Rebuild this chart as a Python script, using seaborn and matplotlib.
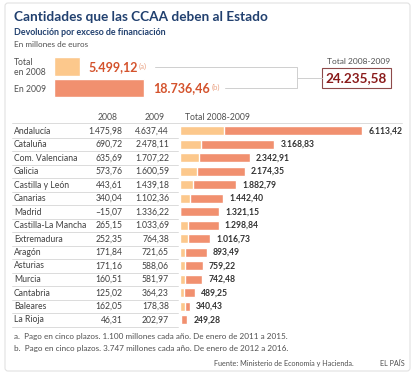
import matplotlib
matplotlib.use("Agg")
import matplotlib.pyplot as plt
import seaborn as sns
from matplotlib.patches import FancyBboxPatch, Rectangle

# ---------------- data ----------------
regions = ["Andalucía", "Cataluña", "Com. Valenciana", "Galicia", "Castilla y León",
           "Canarias", "Madrid", "Castilla-La Mancha", "Extremadura", "Aragón",
           "Asturias", "Murcia", "Cantabria", "Baleares", "La Rioja"]
v2008 = [1475.98, 690.72, 635.69, 573.76, 443.61, 340.04, -15.07, 265.15, 252.35,
         171.84, 171.16, 160.51, 125.02, 162.05, 46.31]
v2009 = [4637.44, 2478.11, 1707.22, 1600.59, 1439.18, 1102.36, 1336.22, 1033.69,
         764.38, 721.65, 588.06, 581.97, 364.23, 178.38, 202.97]
totals = [6113.42, 3168.83, 2342.91, 2174.35, 1882.79, 1442.40, 1321.15, 1298.84,
          1016.73, 893.49, 759.22, 742.48, 489.25, 340.43, 249.28]
top_labels = ["2008", "2009"]
top_values = [5499.12, 18736.46]
grand_total = 24235.58

title = "Cantidades que las CCAA deben al Estado"
subtitle = "Devolución por exceso de financiación"
units = "En millones de euros"
note_a = "a.  Pago en cinco plazos. 1.100 millones cada año. De enero de 2011 a 2015."
note_b = "b.  Pago en cinco plazos. 3.747 millones cada año. De enero de 2012 a 2016."
source = "Fuente: Ministerio de Economía y Hacienda."
brand = "EL PAÍS"

# ---------------- style ----------------
sns.set_style("white")
plt.rcParams["font.family"] = ["Lato", "DejaVu Sans"]

LIGHT = "#fcc88c"
SALMON = "#f1906f"
BLUE = "#21406f"
GRAY = "#505050"
DARK = "#333333"
ORANGE = "#d4532d"
NOTE = "#eaa486"
RED = "#8b1c1c"
LINE = "#d6d6d6"

W, H = 414, 374


def fmt(v):
    s = f"{abs(v):,.2f}".replace(",", "X").replace(".", ",").replace("X", ".")
    return ("\u2013" if v < 0 else "") + s


fig = plt.figure(figsize=(W / 100, H / 100), dpi=100)
fig.patch.set_facecolor("white")


def px_axes(x0, y0, x1, y1):
    return fig.add_axes([x0 / W, (H - y1) / H, (x1 - x0) / W, (y1 - y0) / H])


# ---------------- main bars ----------------
row_top, row_h = 124.0, 13.5
n = len(regions)
ax = px_axes(180, row_top, 410, row_top + row_h * n)
scale = 182.3 / 6113.42  # px per unit
pos08 = [max(v, 0) for v in v2008]
sns.barplot(x=totals, y=regions, color=SALMON, saturation=1, width=0.67, ax=ax)
sns.barplot(x=pos08, y=regions, color=LIGHT, saturation=1, width=0.67, ax=ax)
ax.set_xlim(0, 230 / scale)
ax.set_ylim(n - 0.5, -0.5)
ax.set_axis_off()
for i, t in enumerate(totals):
    ax.annotate(fmt(t), xy=(t, i), xytext=(4.3, 0), textcoords="offset points",
                ha="left", va="center", fontsize=6.2, fontweight="bold", color=DARK)

# ---------------- top bars ----------------
axt = px_axes(54, 56, 154, 98.7)
tscale = 89.7 / 18736.46
sns.barplot(x=top_values, y=top_labels, hue=top_labels, palette=[LIGHT, SALMON],
            saturation=1, width=0.875, legend=False, ax=axt)
axt.set_xlim(0, 100 / tscale)
axt.set_ylim(1.5, -0.5)
axt.set_axis_off()

# ---------------- overlay ----------------
ov = fig.add_axes([0, 0, 1, 1], zorder=5)
ov.set_xlim(0, W)
ov.set_ylim(H, 0)
ov.set_axis_off()
ov.patch.set_alpha(0)

ov.add_patch(FancyBboxPatch((5, 3), 405, 368, boxstyle="round,pad=0,rounding_size=3",
                            ec="#e2e2e2", fc="none", lw=0.8))

ov.text(14, 21, title, fontsize=9.8, fontweight="bold", color=BLUE, va="baseline")
ov.text(14, 35, subtitle, fontsize=6.4, fontweight="bold", color=BLUE, va="baseline")
ov.text(14, 46.7, units, fontsize=5.9, color=GRAY, va="baseline")

ov.text(14, 64.5, "Total", fontsize=6.2, color=GRAY, va="baseline")
ov.text(14, 75, "en 2008", fontsize=6.2, color=GRAY, va="baseline")
ov.text(14, 92, "En 2009", fontsize=6.2, color=GRAY, va="baseline")

t08 = ov.text(88, 70.8, fmt(top_values[0]), fontsize=9, fontweight="bold",
              color=ORANGE, va="baseline")
t09 = ov.text(153.5, 92.5, fmt(top_values[1]), fontsize=9, fontweight="bold",
              color=ORANGE, va="baseline")
ov.annotate("(a)", xy=(1, 0.35), xycoords=t08, xytext=(0.8, 0),
            textcoords="offset points", fontsize=5.6, color=NOTE, va="baseline")
ov.annotate("(b)", xy=(1, 0.35), xycoords=t09, xytext=(0.8, 0),
            textcoords="offset points", fontsize=5.6, color=NOTE, va="baseline")

ov.plot([155, 297, 297, 225], [66.7, 66.7, 88.3, 88.3], color="#cfcfcf", lw=0.7)
ov.plot([297, 322], [77.7, 77.7], color="#cfcfcf", lw=0.7)
ov.add_patch(Rectangle((322, 68.3), 69, 19.4, ec="#8e4a4a", fc="white", lw=0.8))
ov.text(356.5, 78.2, fmt(grand_total), fontsize=9.7, fontweight="bold", color=RED,
        ha="center", va="center")
ov.text(390, 64, "Total 2008-2009", fontsize=6, color=GRAY, ha="right", va="baseline")

# table header
ov.text(118, 120, "2008", fontsize=6.2, color=GRAY, ha="right", va="baseline")
ov.text(164.5, 120, "2009", fontsize=6.2, color=GRAY, ha="right", va="baseline")
ov.text(185, 120, "Total 2008-2009", fontsize=6.2, color=GRAY, ha="left", va="baseline")
ov.plot([12, 402], [row_top - 0.7, row_top - 0.7], color=LINE, lw=0.6)

for i, name in enumerate(regions):
    yb = row_top + row_h * i + 9.5
    ov.text(14, yb, name, fontsize=6.2, color="#404040", va="baseline")
    ov.text(122.7, yb, fmt(v2008[i]), fontsize=6.2, color="#404040", ha="right", va="baseline")
    ov.text(169, yb, fmt(v2009[i]), fontsize=6.2, color="#404040", ha="right", va="baseline")
    yl = row_top + row_h * (i + 1)
    ov.plot([12, 178], [yl, yl], color=LINE, lw=0.6)

ov.text(14, 339, note_a, fontsize=5.85, color=GRAY, va="baseline")
ov.text(14, 351.3, note_b, fontsize=5.85, color=GRAY, va="baseline")
ov.text(354, 366, source, fontsize=5.2, color=GRAY, ha="right", va="baseline")
ov.text(405, 366, brand, fontsize=5.2, color=GRAY, ha="right", va="baseline")

fig.savefig("out.png", dpi=100)
